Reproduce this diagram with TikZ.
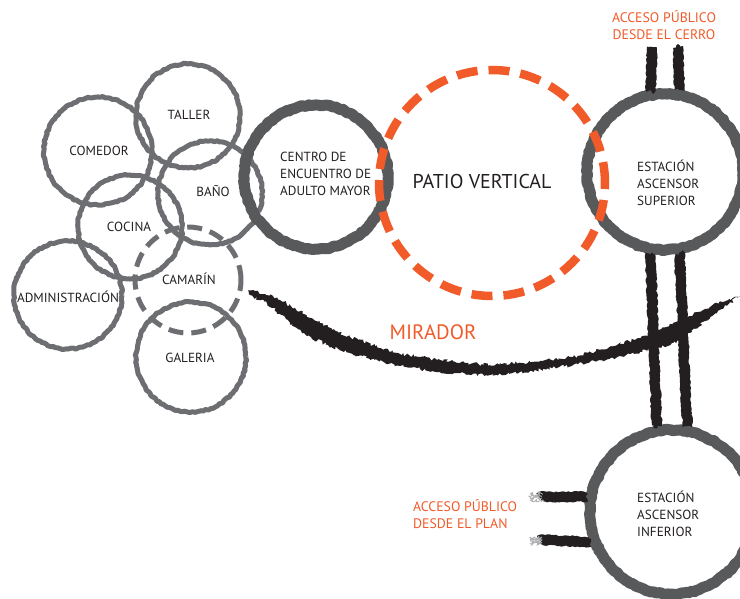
\documentclass[tikz,border=0pt]{standalone}
\usepackage{fontspec}
\setmainfont{PT Sans}
\usetikzlibrary{decorations.pathmorphing,calc}
\definecolor{ringgray}{RGB}{109,110,113}
\definecolor{darkring}{RGB}{88,89,91}
\definecolor{ink}{RGB}{35,31,32}
\definecolor{accent}{RGB}{241,90,41}
\begin{document}
\begin{tikzpicture}[x=1pt,y=-1pt,line join=round,
  rough/.style={decorate,decoration={random steps,segment length=2.5pt,amplitude=0.8pt}},
  room/.style={circle,minimum size=#1,inner sep=0pt,draw=ringgray,line width=5pt,rough,
    postaction={draw=ringgray,line width=2.5pt,decorate,decoration={random steps,segment length=2pt,amplitude=1.5pt}}},
  dashroom/.style={circle,minimum size=#1,inner sep=0pt,draw=ringgray,line width=5pt,dash pattern=on 15pt off 8pt},
  hub/.style={circle,minimum size=#1,inner sep=0pt,draw=darkring,line width=11pt,rough,
    postaction={draw=darkring,line width=5pt,decorate,decoration={random steps,segment length=2pt,amplitude=2.8pt}}},
  patiocircle/.style={circle,minimum size=#1,inner sep=0pt,draw=accent,line width=8.5pt,dash pattern=on 21pt off 11pt},
  brush/.style={draw=ink,line width=10pt,decorate,decoration={random steps,segment length=1.5pt,amplitude=1pt},
    postaction={draw=ink,line width=4pt,decorate,decoration={random steps,segment length=1.2pt,amplitude=3pt}}},
  fuzz/.style={draw=ringgray!55,line width=0.8pt,decorate,decoration={random steps,segment length=1pt,amplitude=2.5pt}},
  lbl/.style={text=ink,font=\fontsize{13.2}{17}\selectfont,inner sep=0pt},
  biglbl/.style={text=ink,font=\fontsize{20}{24}\selectfont,inner sep=0pt},
  acc/.style={text=accent,font=\fontsize{13.8}{17}\selectfont,inner sep=0pt},
  accbig/.style={text=accent,font=\fontsize{20.8}{24}\selectfont,inner sep=0pt}]
\pgfmathsetseed{11}
\useasboundingbox (0,0) rectangle (740,599);

% small program rooms
\node[room=108pt] (comedor) at (98,151) {};
\node[room=104pt] (taller) at (188,116) {};
\node[room=104pt] (bano) at (210,193) {};
\node[room=104pt] (cocina) at (130,227) {};
\node[room=108pt] (admin) at (68,295) {};
\node[room=110pt] (galeria) at (191,357) {};
\node[dashroom=106pt] (camarin) at (188,280) {};

% main spaces
\node[hub=144pt] (centro) at (316,177) {};
\node[hub=156pt] (sup) at (665,172) {};
\node[hub=164pt] (inf) at (672,512) {};

% access strokes
\coordinate (cerroL) at (652,47);
\coordinate (cerroR) at (678,47);
\draw[brush] (cerroL) -- (sup.100);
\draw[brush] (cerroR) -- (sup.80);
\draw[brush] (sup.260) -- (inf.100);
\draw[brush] (sup.280) -- (inf.80);
\coordinate (planA) at (540,497);
\coordinate (planB) at (540,540);
\draw[brush] (planA) -- (inf.170);
\draw[brush] (planB) -- (inf.200);
\foreach \dy in {-3,-1,1,3} {
  \draw[fuzz] ($(planA)+(2,\dy)$) -- ++(-12,0.5);
  \draw[fuzz] ($(planB)+(2,\dy)$) -- ++(-12,0.5);
}

% mirador walkway
\coordinate (mirA) at (248,290);
\coordinate (mirB) at (740,296);
\fill[ink,decorate,decoration={random steps,segment length=2pt,amplitude=1.8pt}]
  (mirA) -- (265,294) -- (280,300) -- (295,308) -- (307,316) -- (328,327) -- (350,337)
  -- (375,346) -- (400,354) -- (420,357) -- (440,360) -- (465,363) -- (490,365)
  -- (530,362) -- (573,357) -- (608,348) -- (640,338) -- (657,331) -- (673,323)
  -- (690,316) -- (705,309) -- (722,302) -- (mirB)
  -- (722,309) -- (705,321) -- (690,333) -- (673,343) -- (657,348) -- (640,352)
  -- (608,359) -- (573,365) -- (530,371) -- (490,375) -- (465,374) -- (440,372)
  -- (420,369) -- (400,366) -- (375,360) -- (350,353) -- (328,345) -- (307,336)
  -- (295,327) -- (280,314) -- (265,302) -- (250,295) -- cycle;

% vertical courtyard
\node[patiocircle=226pt] (patio) at (492,183) {};

% labels
\node[lbl] (tcomedor) at (99,151) {COMEDOR};
\node[lbl] (ttaller) at (189,115) {TALLER};
\node[lbl] (tbano) at (213,191) {BAÑO};
\node[lbl] (tcocina) at (129,227) {COCINA};
\node[lbl] (tcamarin) at (189,279) {CAMARÍN};
\node[lbl] (tadmin) at (68,297) {ADMINISTRACIÓN};
\node[lbl] (tgaleria) at (190,358) {GALERIA};
\node[lbl,align=left,anchor=west] (tcentro) at (280,174) {CENTRO DE\\ENCUENTRO DE\\ADULTO MAYOR};
\node[biglbl] (tpatio) at (482,182) {PATIO VERTICAL};
\node[lbl,align=left,anchor=west] (tsup) at (637,183) {ESTACIÓN\\ASCENSOR\\SUPERIOR};
\node[lbl,align=left,anchor=west] (tinf) at (637,514) {ESTACIÓN\\ASCENSOR\\INFERIOR};
\node[acc,align=center] (tcerro) at (664,25) {ACCESO PÚBLICO\\DESDE EL CERRO};
\node[acc,align=left,anchor=west] (tplan) at (413,514) {ACCESO PÚBLICO\\DESDE EL PLAN};
\node[accbig] (tmirador) at (433,332) {MIRADOR};
\end{tikzpicture}
\end{document}
